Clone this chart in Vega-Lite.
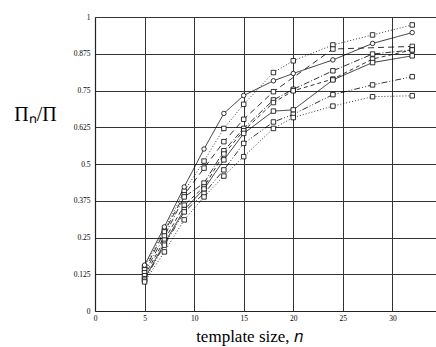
{
  "$schema": "https://vega.github.io/schema/vega-lite/v6.json",
  "width": 341,
  "height": 294,
  "autosize": "none",
  "padding": {"left": 95, "top": 17, "right": 0, "bottom": 36},
  "background": "white",
  "config": {
    "view": {"stroke": null},
    "axis": {"labelFont": "Liberation Serif", "labelFontSize": 7.5, "labelColor": "black", "titleFont": "Liberation Serif", "titleColor": "black", "titleFontWeight": "normal", "gridColor": "#333", "gridOpacity": 1, "gridWidth": 1, "domainColor": "#222", "tickColor": "#222"}
  },
  "data": {"values": [
    {"s":"A","n":5,"v":0.15},{"s":"A","n":7,"v":0.275},{"s":"A","n":9,"v":0.408},{"s":"A","n":11,"v":0.51},{"s":"A","n":13,"v":0.621},{"s":"A","n":15,"v":0.703},{"s":"A","n":18,"v":0.811},{"s":"A","n":20,"v":0.851},{"s":"A","n":24,"v":0.905},{"s":"A","n":28,"v":0.939},{"s":"A","n":32,"v":0.973},
    {"s":"B","n":5,"v":0.156},{"s":"B","n":7,"v":0.286},{"s":"B","n":9,"v":0.422},{"s":"B","n":11,"v":0.551},{"s":"B","n":13,"v":0.672},{"s":"B","n":15,"v":0.733},{"s":"B","n":18,"v":0.783},{"s":"B","n":20,"v":0.808},{"s":"B","n":24,"v":0.854},{"s":"B","n":28,"v":0.91},{"s":"B","n":32,"v":0.947},
    {"s":"C","n":5,"v":0.14},{"s":"C","n":7,"v":0.269},{"s":"C","n":9,"v":0.395},{"s":"C","n":11,"v":0.486},{"s":"C","n":13,"v":0.576},{"s":"C","n":15,"v":0.652},{"s":"C","n":18,"v":0.746},{"s":"C","n":24,"v":0.891},{"s":"C","n":32,"v":0.9},
    {"s":"D","n":5,"v":0.13},{"s":"D","n":7,"v":0.255},{"s":"D","n":9,"v":0.388},{"s":"D","n":11,"v":0.435},{"s":"D","n":13,"v":0.545},{"s":"D","n":15,"v":0.621},{"s":"D","n":18,"v":0.718},{"s":"D","n":20,"v":0.754},{"s":"D","n":24,"v":0.817},{"s":"D","n":28,"v":0.874},{"s":"D","n":32,"v":0.888},
    {"s":"E","n":5,"v":0.12},{"s":"E","n":7,"v":0.241},{"s":"E","n":9,"v":0.36},{"s":"E","n":11,"v":0.422},{"s":"E","n":13,"v":0.534},{"s":"E","n":15,"v":0.613},{"s":"E","n":18,"v":0.709},{"s":"E","n":20,"v":0.749},{"s":"E","n":24,"v":0.789},{"s":"E","n":28,"v":0.857},{"s":"E","n":32,"v":0.888},
    {"s":"H","n":5,"v":0.11},{"s":"H","n":7,"v":0.23},{"s":"H","n":9,"v":0.345},{"s":"H","n":11,"v":0.415},{"s":"H","n":13,"v":0.514},{"s":"H","n":15,"v":0.604},{"s":"H","n":18,"v":0.68},{"s":"H","n":20,"v":0.684},{"s":"H","n":24,"v":0.786},{"s":"H","n":28,"v":0.845},{"s":"H","n":32,"v":0.868},
    {"s":"F","n":5,"v":0.105},{"s":"F","n":7,"v":0.224},{"s":"F","n":9,"v":0.337},{"s":"F","n":11,"v":0.4},{"s":"F","n":13,"v":0.48},{"s":"F","n":15,"v":0.57},{"s":"F","n":18,"v":0.643},{"s":"F","n":20,"v":0.669},{"s":"F","n":24,"v":0.736},{"s":"F","n":28,"v":0.769},{"s":"F","n":32,"v":0.797},
    {"s":"G","n":5,"v":0.099},{"s":"G","n":7,"v":0.201},{"s":"G","n":9,"v":0.31},{"s":"G","n":11,"v":0.388},{"s":"G","n":13,"v":0.459},{"s":"G","n":15,"v":0.525},{"s":"G","n":18,"v":0.621},{"s":"G","n":20,"v":0.658},{"s":"G","n":24,"v":0.697},{"s":"G","n":28,"v":0.729},{"s":"G","n":32,"v":0.732}
  ]},
  "encoding": {
    "x": {"field": "n", "type": "quantitative",
      "scale": {"domain": [0, 34.4], "nice": false, "zero": false},
      "axis": {"values": [0,5,10,15,20,25,30], "format": "d", "title": "template size, 𝑛", "titleFontSize": 17, "titleX": 154, "titleY": 30, "titleAlign": "center", "titleBaseline": "alphabetic", "labelPadding": 3, "tickSize": 0, "domainWidth": 1.2, "labelFlush": false}},
    "y": {"field": "v", "type": "quantitative",
      "scale": {"domain": [0, 1], "nice": false},
      "axis": {"values": [0,0.125,0.25,0.375,0.5,0.625,0.75,0.875,1], "format": ".3~f", "title": "Πₙ/Π", "titleFontSize": 20, "titleAngle": 0, "titleX": -60, "titleY": 103, "titleAlign": "center", "titleBaseline": "alphabetic", "labelPadding": 5, "tickSize": 0, "domainWidth": 1.2, "labelFlush": false}}
  },
  "layer": [
    {
      "mark": {"type": "line", "color": "black", "strokeWidth": 0.8},
      "encoding": {
        "detail": {"field": "s"},
        "strokeDash": {"field": "s", "type": "nominal", "legend": null,
          "scale": {"domain": ["A","B","C","D","E","H","F","G"],
                    "range": [[1,2],[1,0],[6,4],[6,2,1,2],[4,3],[1,0],[6,2,1,2,1,2],[1,2]]}}
      }
    },
    {
      "mark": {"type": "point", "filled": true, "fill": "white", "stroke": "black", "strokeWidth": 0.8, "size": 20, "opacity": 1},
      "encoding": {
        "shape": {"field": "s", "type": "nominal", "legend": null,
          "scale": {"domain": ["A","B","C","D","E","H","F","G"],
                    "range": ["square","circle","square","square","square","square","square","square"]}}
      }
    }
  ]
}
